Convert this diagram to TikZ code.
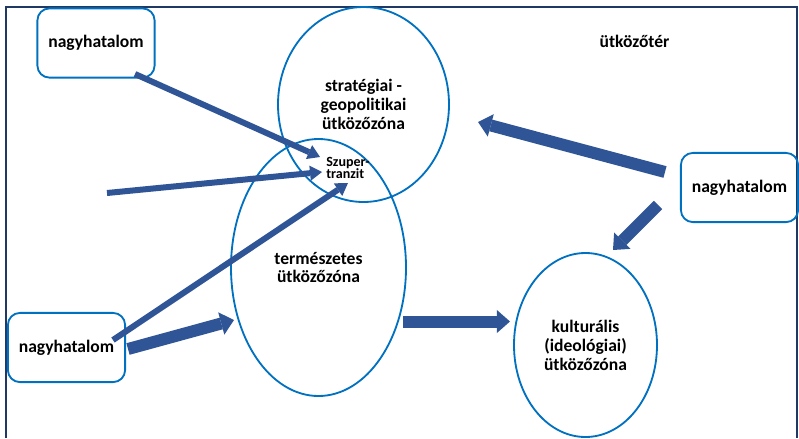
\documentclass[tikz,border=0pt]{standalone}
\usepackage{fontspec}
\setmainfont{Carlito}[Ligatures=NoCommon]
\usetikzlibrary{shapes.geometric, arrows.meta}
\definecolor{rimblue}{RGB}{0,112,192}
\definecolor{arrowblue}{RGB}{47,85,151}
\definecolor{framenavy}{RGB}{32,56,100}
\begin{document}
\begin{tikzpicture}[x=.25mm, y=-.25mm,
  power/.style={draw=rimblue, line width=1.3pt, rounded corners=3mm,
    minimum width=29.3mm, minimum height=17.3mm,
    font=\bfseries\fontsize{12.5}{13.5}\selectfont},
  zone/.style={draw=rimblue, line width=1.3pt, ellipse, inner sep=0pt,
    align=center, font=\bfseries\fontsize{12.5}{13.5}\selectfont},
  slim/.style={draw=arrowblue, line width=1.5mm,
    -{Triangle[width=3.8mm, length=3mm, line width=0pt]}},
  fat/.style={draw=arrowblue, line width=3mm,
    -{Triangle[width=5.8mm, length=3.3mm, line width=0pt]}}]

\useasboundingbox (0,0) rectangle (799,438);
\draw[framenavy, line width=1.4pt] (6,438) -- (6,7) -- (797,7) -- (797,438);

\node[zone, minimum width=42.75mm, minimum height=48.75mm] (strategic) at (363.5,104.5) {stratégiai -\\geopolitikai\\ütközőzóna};
\node[zone, minimum width=43.75mm, minimum height=64.25mm] (natural) at (318.5,267.5) {természetes\\ütközőzóna};
\node[zone, minimum width=35.75mm, minimum height=46mm] (cultural) at (585.5,345) {kulturális\\(ideológiai)\\ütközőzóna};

\node[power] (greatA) at (96,43) {nagyhatalom};
\node[power] (greatB) at (739.5,187.5) {nagyhatalom};
\node[power] (greatC) at (66.5,347.5) {nagyhatalom};

\node[font=\bfseries\fontsize{12.5}{13.5}\selectfont] (buffer) at (634.5,41) {ütközőtér};
\node[align=left, font=\bfseries\fontsize{10}{9}\selectfont] (tranzit) at (348,168) {Szuper-\\tranzit};

% free ends of the arrows
\coordinate (fromA) at (135,74);
\coordinate (fromW) at (107,193);
\coordinate (fromC1) at (113,340);
\coordinate (fromC2) at (128,349);
\coordinate (fromN) at (403,321.5);
\coordinate (fromB1) at (665,172);
\coordinate (fromB2) at (658,205);
\coordinate (toT1) at (320,157);
\coordinate (toT2) at (322,172);
\coordinate (toT3) at (348,183);
\coordinate (toN) at (234,320);
\coordinate (toC) at (510,321.5);
\coordinate (toS) at (478,122);
\coordinate (toC2) at (613,250);

\draw[slim] (fromA) -- (toT1);
\draw[slim] (fromW) -- (toT2);
\draw[slim] (fromC1) -- (toT3);
\draw[fat] (fromC2) -- (toN);
\draw[fat] (fromN) -- (toC);
\draw[fat] (fromB1) -- (toS);
\draw[fat] (fromB2) -- (toC2);

\end{tikzpicture}
\end{document}
